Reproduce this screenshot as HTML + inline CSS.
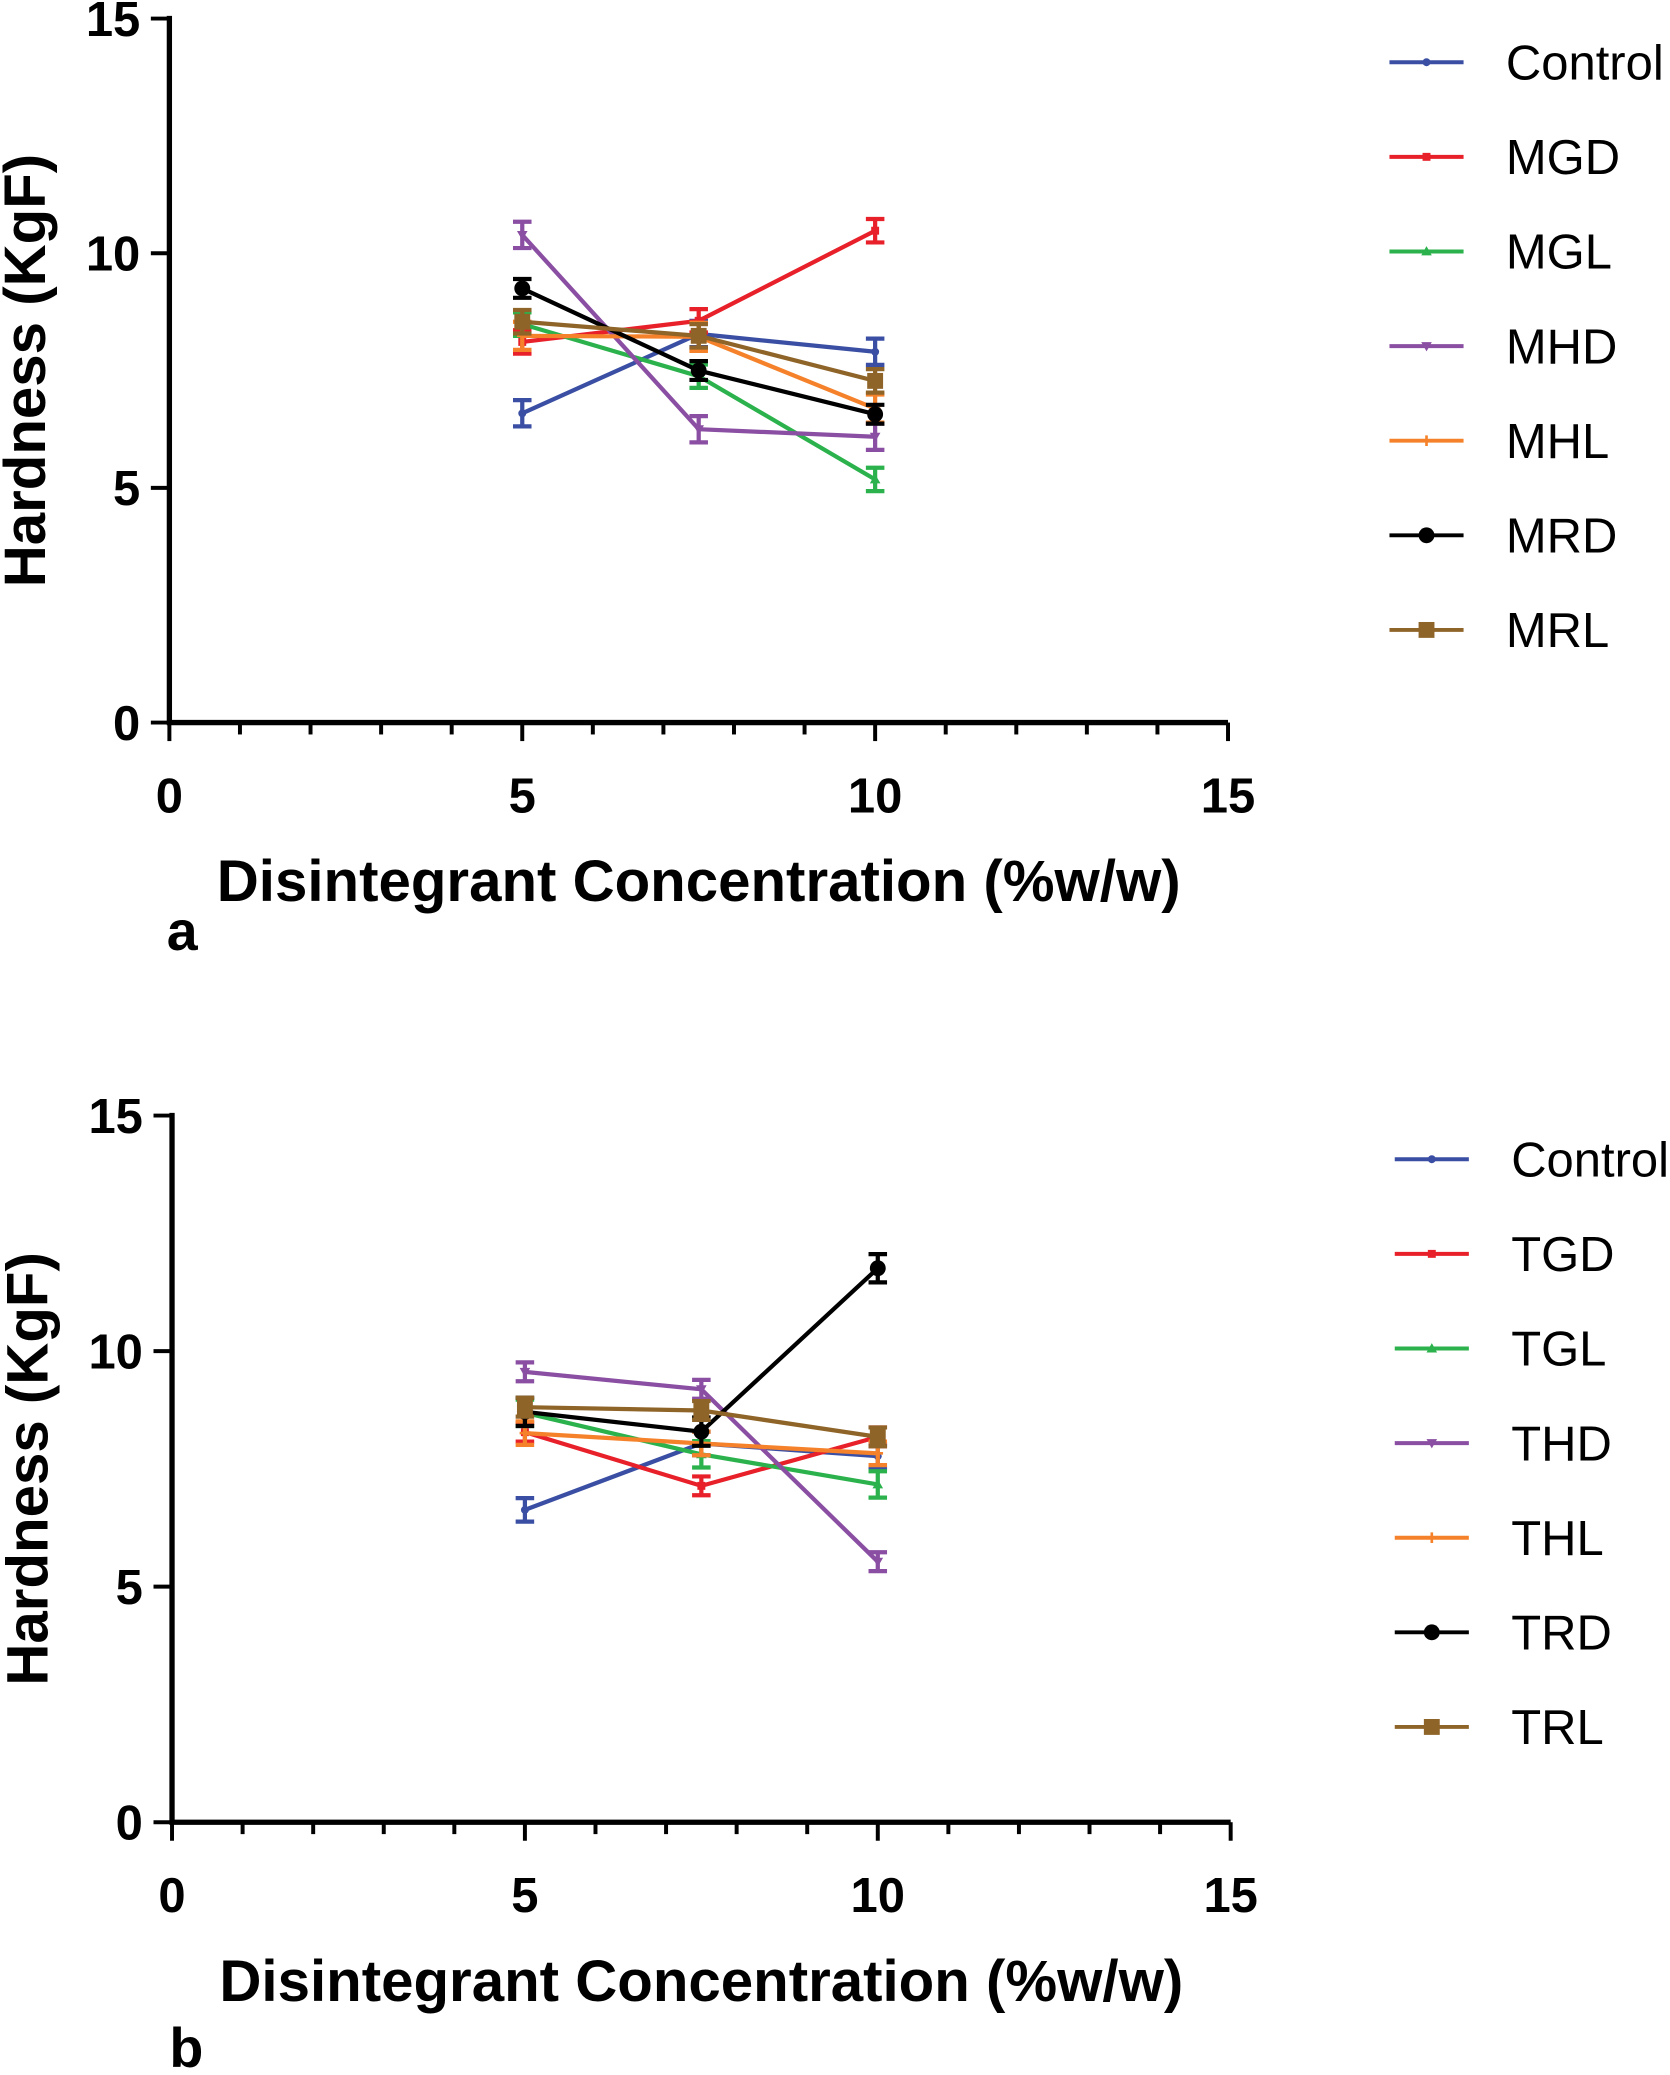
<!DOCTYPE html>
<html><head><meta charset="utf-8"><style>
html,body{margin:0;padding:0;background:#fff;}
svg{display:block;font-family:"Liberation Sans",Arial,sans-serif;}
</style></head><body>
<svg id="chart" width="1670" height="2075" viewBox="0 0 1262 1568" xmlns="http://www.w3.org/2000/svg"></svg>
<script>
const xCats = [5, 7.5, 10];
const seriesNamesA = ["Control","MGD","MGL","MHD","MHL","MRD","MRL"];
const seriesNamesB = ["Control","TGD","TGL","THD","THL","TRD","TRL"];
const controlA = [6.59, 8.28, 7.90];
const mgd = [8.11, 8.56, 10.48];
const mgl = [8.49, 7.38, 5.18];
const mhd = [10.39, 6.25, 6.09];
const mhl = [8.24, 8.22, 6.69];
const mrd = [9.25, 7.50, 6.57];
const mrl = [8.54, 8.24, 7.28];
const errA = [0.28, 0.25, 0.25, 0.28, 0.3, 0.2, 0.25];
const controlB = [6.63, 8.04, 7.77];
const tgd = [8.28, 7.14, 8.18];
const tgl = [8.69, 7.81, 7.17];
const thd = [9.56, 9.19, 5.53];
const thl = [8.26, 8.04, 7.83];
const trd = [8.71, 8.29, 11.76];
const trl = [8.81, 8.74, 8.18];
const errB = [0.25, 0.2, 0.28, 0.2, 0.25, 0.3, 0.2];
const xTicks = [0, 5, 10, 15];
const yTicks = [0, 5, 10, 15];

const colors = ["#3a4fa3","#e8202a","#2bb24c","#8a4ea3","#f5822a","#000000","#8f6428"];
const markers = ["circle","square","tri","dtri","plus","bigcircle","bigsquare"];
const NS = "http://www.w3.org/2000/svg";
const svg = document.getElementById("chart");
function mk(tag, attrs, parent){const e=document.createElementNS(NS,tag);for(const k in attrs)e.setAttribute(k,attrs[k]);(parent||svg).appendChild(e);return e;}

function marker(g, type, x, y, c){
  let m;
  if(type==="circle") m=mk("circle",{cx:x,cy:y,r:3,fill:c},g);
  else if(type==="square") m=mk("rect",{x:x-3,y:y-3,width:6,height:6,fill:c},g);
  else if(type==="tri") m=mk("polygon",{points:`${x},${y-4} ${x-4},${y+3} ${x+4},${y+3}`,fill:c},g);
  else if(type==="dtri") m=mk("polygon",{points:`${x},${y+4} ${x-4},${y-3} ${x+4},${y-3}`,fill:c},g);
  else if(type==="plus") m=mk("path",{d:`M${x-4},${y}H${x+4}M${x},${y-4}V${y+4}`,stroke:c,"stroke-width":2},g);
  else if(type==="bigcircle") m=mk("circle",{cx:x,cy:y,r:6,fill:c},g);
  else m=mk("rect",{x:x-6,y:y-6,width:12,height:12,fill:c},g);
  return m;
}

function panel(cfg){
  const {x0,x1,y0,y1,data,names,errs,legX,legY,tag,letterY,prefix} = cfg;
  const xs = v => x0 + (x1-x0)*v/15;
  const ys = v => y0 - (y0-y1)*v/15;
  const g = mk("g",{});
  
  
  const ax = mk("path",{d:`M${x0},${y1-2}V${y0}H${x1}`,stroke:"#000","stroke-width":4,fill:"none"},g);
  
  
  for(let i=0;i<=15;i++){
    const major = i%5===0;
    mk("line",{x1:xs(i),x2:xs(i),y1:y0,y2:y0+(major?14:9),stroke:"#000","stroke-width":3},g);
  }
  xTicks.forEach(t=>{
    const tl = mk("text",{x:xs(t),y:y0+68,"text-anchor":"middle","font-size":37,"font-weight":"bold"},g);
    tl.textContent=t;
    
    
  });
  yTicks.forEach(t=>{
    mk("line",{x1:x0-14,x2:x0,y1:ys(t),y2:ys(t),stroke:"#000","stroke-width":3},g);
    const tl = mk("text",{x:x0-22,y:ys(t)+13,"text-anchor":"end","font-size":37,"font-weight":"bold"},g);
    tl.textContent=t;
    
    
  });
  const yt = mk("text",{x:0,y:0,transform:`translate(${x0-94},${(y0+y1)/2}) rotate(-90)`,"text-anchor":"middle","font-size":44,"font-weight":"bold"},g);
  yt.textContent="Hardness (KgF)";
  
  
  const xt = mk("text",{x:(x0+x1)/2,y:y0+135,"text-anchor":"middle","font-size":44,"font-weight":"bold"},g);
  xt.textContent="Disintegrant Concentration (%w/w)";
  
  
  const lt = mk("text",{x:x0-2,y:letterY,"font-size":42,"font-weight":"bold"},g);
  lt.textContent=tag;
  
  
  data.forEach((vals,si)=>{
    const c = colors[si];
    const sg = mk("g",{},g);
    
    
    const line = mk("polyline",{points:vals.map((v,i)=>xs(xCats[i])+","+ys(v)).join(" "),stroke:c,"stroke-width":3.2,fill:"none"},sg);
    
    
    vals.forEach((v,i)=>{
      const px=xs(xCats[i]), py=ys(v), e=errs[si]*(y0-y1)/15;
      const eb = mk("path",{d:`M${px},${py-e}V${py+e}M${px-7},${py-e}H${px+7}M${px-7},${py+e}H${px+7}`,stroke:c,"stroke-width":3.2,fill:"none"},sg);
      
      
      const m = marker(sg, markers[si], px, py, c);
      
      
    });
    const ly = legY + si*71.5;
    const le = mk("g",{},g);
    
    
    mk("line",{x1:legX,x2:legX+56,y1:ly,y2:ly,stroke:c,"stroke-width":3},le);
    marker(le, markers[si], legX+28, ly, c);
    const tx = mk("text",{x:legX+88,y:ly+13,"font-size":37},le);
    tx.textContent=names[si];
  });
}
panel({x0:128,x1:928,y0:546,y1:14,data:[controlA,mgd,mgl,mhd,mhl,mrd,mrl],names:seriesNamesA,errs:errA,legX:1050,legY:47,tag:"a",letterY:718,prefix:"panel-a"});
panel({x0:130,x1:930,y0:1377,y1:843,data:[controlB,tgd,tgl,thd,thl,trd,trl],names:seriesNamesB,errs:errB,legX:1054,legY:876,tag:"b",letterY:1562,prefix:"panel-b"});
</script>
</body></html>
